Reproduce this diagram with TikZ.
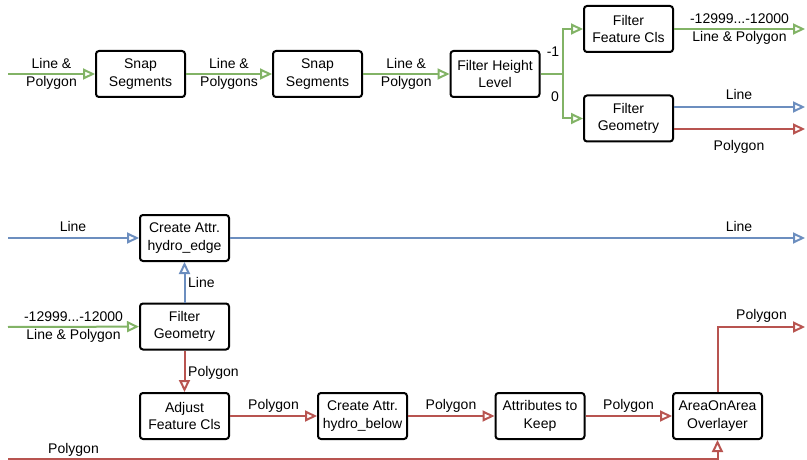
\documentclass[tikz,border=0pt]{standalone}
\usepackage{fontspec}
\setmainfont{Liberation Sans}
\usetikzlibrary{arrows.meta}
\definecolor{flowgreen}{HTML}{82B366}
\definecolor{flowblue}{HTML}{6C8EBF}
\definecolor{flowred}{HTML}{B85450}
\begin{document}
\begin{tikzpicture}[x=1pt,y=-1pt,
  font=\fontsize{14pt}{17.5pt}\selectfont,
  proc/.style={draw, line width=2pt, rounded corners=3pt,
    minimum width=89pt, minimum height=46pt, align=center, inner sep=0pt},
  flow/.style={line width=2pt, -{Triangle[open,length=12pt,width=11pt]}},
  pair/.style={align=center, inner sep=0pt, text=black},
  lbl/.style={inner sep=0pt, anchor=base, text=black}]
\useasboundingbox (0,0) rectangle (807,460);

% ---- upper chain: snapping and height filter ----
\node[proc] (snapA)  at (140.5,74)  {Snap\\Segments};
\node[proc] (snapB)  at (317.5,74)  {Snap\\Segments};
\node[proc] (height) at (495,74)    {Filter Height\\Level};
\node[proc] (fcls)   at (628.5,29)  {Filter\\Feature Cls};
\node[proc] (fgeoA)  at (628.5,118.5) {Filter\\Geometry};

\coordinate (inA)   at (8,74);
\coordinate (split) at (563,74);
\coordinate (outA)  at (805,29);
\coordinate (outB)  at (805,107);
\coordinate (outC)  at (805,129);

\draw[flow,flowgreen] (inA) -- node[pair] (pA) {Line \&\\Polygon} (snapA);
\draw[flow,flowgreen] (snapA) -- node[pair] (pB) {Line \&\\Polygons} (snapB);
\draw[flow,flowgreen] (snapB) -- node[pair] (pC) {Line \&\\Polygon} (height);
\draw[line width=2pt,flowgreen] (height) -- (split);
\draw[flow,flowgreen] (split) |- (fcls);
\draw[flow,flowgreen] (split) |- (fgeoA);
\node[lbl] (lm1)  at (553,57)  {-1};
\node[lbl] (lz)   at (555,102) {0};

\draw[flow,flowgreen] (fcls) -- node[pair] (pD) {-12999...-12000\\Line \& Polygon} (outA);
\draw[flow,flowblue] (fgeoA.east |- outB) -- (outB);
\draw[flow,flowred]  (fgeoA.east |- outC) -- (outC);
\node[lbl] (lB) at (739,100) {Line};
\node[lbl] (lC) at (739,150) {Polygon};

% ---- lower chain: attributes and overlay ----
\node[proc] (edge)   at (184.5,238)   {Create Attr.\\hydro\_edge};
\node[proc] (fgeoB)  at (184.5,326.5) {Filter\\Geometry};
\node[proc] (adjust) at (184.5,416)   {Adjust\\Feature Cls};
\node[proc] (below)  at (362.5,416)   {Create Attr.\\hydro\_below};
\node[proc] (keep)   at (540,416)     {Attributes to\\Keep};
\node[proc] (aoa)    at (717.5,416)   {AreaOnArea\\Overlayer};

\coordinate (inB)   at (8,238);
\coordinate (outD)  at (805,238);
\coordinate (inC)   at (8,327);
\coordinate (inD)   at (8,459);
\coordinate (turnD) at (717.5,459);
\coordinate (outE)  at (805,327);

\draw[flow,flowblue] (inB) -- (edge);
\node[lbl] (lE) at (73,231) {Line};
\draw[flow,flowblue] (edge) -- (outD);
\node[lbl] (lF) at (739,231) {Line};

\draw[flow,flowgreen] (inC) -- node[pair] (pE) {-12999...-12000\\Line \& Polygon} (fgeoB);
\draw[flow,flowblue] (fgeoB) -- (edge);
\node[lbl,anchor=base west] (lG) at (188,287) {Line};
\draw[flow,flowred] (fgeoB) -- (adjust);
\node[lbl,anchor=base west] (lH) at (188,376) {Polygon};

\draw[flow,flowred] (adjust) -- (below);
\node[lbl] (lI) at (273.5,409) {Polygon};
\draw[flow,flowred] (below) -- (keep);
\node[lbl] (lJ) at (451,409) {Polygon};
\draw[flow,flowred] (keep) -- (aoa);
\node[lbl] (lK) at (628.5,409) {Polygon};

\draw[flow,flowred] (aoa) |- (outE);
\node[lbl] (lL) at (761.5,319) {Polygon};

\draw[flow,flowred] (inD) -- (turnD) -- (aoa);
\node[lbl] (lM) at (73.5,453) {Polygon};
\end{tikzpicture}
\end{document}
